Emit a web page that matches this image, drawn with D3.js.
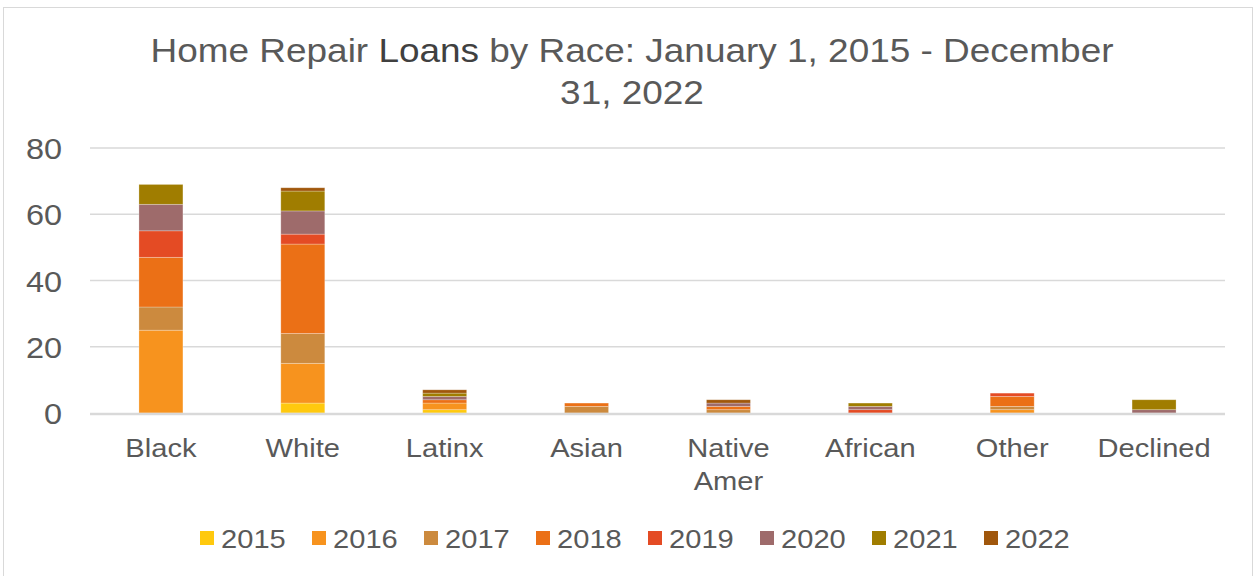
<!DOCTYPE html>
<html><head><meta charset="utf-8">
<script src="https://cdn.jsdelivr.net/npm/d3@7/dist/d3.min.js"></script>
<style>
body{margin:0;background:#fff;}
svg{display:block;font-family:"Liberation Sans",Arial,sans-serif;}
</style></head>
<body><svg id="c" width="1256" height="576"></svg>
<script>
const categories = ["Black","White","Latinx","Asian","Native Amer","African","Other","Declined"];
const years = ["2015","2016","2017","2018","2019","2020","2021","2022"];
const colors = ["#FFC90E","#F7931E","#CC8A3E","#EB7016","#E44B24","#9E6B6B","#A07D00","#A0570C"];
const v2015 = [0,3,1,0,0,0,0,0];
const v2016 = [25,12,2,0,0,0,1,0];
const v2017 = [7,9,0,2,1,0,1,0];
const v2018 = [15,27,1,1,1,0,3,0];
const v2019 = [8,3,0,0,0,1,1,0];
const v2020 = [8,7,1,0,1,1,0,1];
const v2021 = [6,6,1,0,0,1,0,3];
const v2022 = [0,1,1,0,1,0,0,0];
const yTicks = [0,20,40,60,80];

(function(){
const SX = 1.12;
const series = [v2015,v2016,v2017,v2018,v2019,v2020,v2021,v2022];
const rows = categories.map((c,i)=>{const r={cat:c};years.forEach((y,j)=>r[y]=series[j][i]);return r;});
const stacked = d3.stack().keys(years)(rows);

const svg = d3.select("#c");
svg.append("rect").attr("x",3.5).attr("y",7.5).attr("width",1249).attr("height",580)
  .attr("fill","#fff").attr("stroke","#d9d9d9");

const pL=90,pR=1225,pT=148,pB=413;
const x = d3.scaleBand().domain(categories).range([pL,pR]).paddingInner(0.69).paddingOuter(0.345);
const y = d3.scaleLinear().domain([0,80]).range([pB,pT]);

function label(px,py,anchor,size,txt){
  const g = svg.append("g").attr("transform",`translate(${px},${py}) scale(${SX},1)`);
  return g.append("text").attr("text-anchor",anchor).attr("font-size",size).attr("fill","#595959").text(txt);
}

const t1 = svg.append("g").attr("transform",`translate(632,62) scale(${SX},1)`)
  .append("text").attr("text-anchor","middle").attr("fill","#595959").attr("font-size",33);
t1.append("tspan").text("Home Repair ");
t1.append("tspan").attr("fill","#404040").text("Loans");
t1.append("tspan").text(" by Race: January 1, 2015 - December");
label(632,104,"middle",33,"31, 2022");

svg.append("g").selectAll("line").data(yTicks.filter(d=>d>0)).join("line")
  .attr("x1",pL).attr("x2",pR).attr("y1",d=>y(d)).attr("y2",d=>y(d))
  .attr("stroke","#d9d9d9").attr("stroke-width",1.5);

yTicks.forEach(d=>label(62,y(d)+11,"end",29,d));

svg.append("g").selectAll("g").data(stacked).join("g")
  .attr("fill",(d,i)=>colors[i])
  .selectAll("rect").data(d=>d).join("rect")
  .attr("x",d=>x(d.data.cat)).attr("width",x.bandwidth())
  .attr("y",d=>y(d[1])).attr("height",d=>y(d[0])-y(d[1]))
  .attr("stroke","#fff").attr("stroke-opacity",0.35).attr("stroke-width",d=>d[1]>d[0]?0.75:0);

svg.append("line").attr("x1",pL).attr("x2",pR).attr("y1",pB+1).attr("y2",pB+1)
  .attr("stroke","#d9d9d9").attr("stroke-width",2.5);

categories.forEach(d=>{
  const cx=x(d)+x.bandwidth()/2;
  if(d==="Native Amer"){
    label(cx,457,"middle",26,"Native");
    label(cx,490,"middle",26,"Amer");
  } else label(cx,457,"middle",26,d);
});

const lx0=200, step=112;
years.forEach((yr,i)=>{
  const gx=lx0+i*step;
  svg.append("rect").attr("x",gx).attr("y",531).attr("width",14).attr("height",14).attr("fill",colors[i]);
  label(gx+21,548,"start",26,yr);
});
})();
</script></body></html>
